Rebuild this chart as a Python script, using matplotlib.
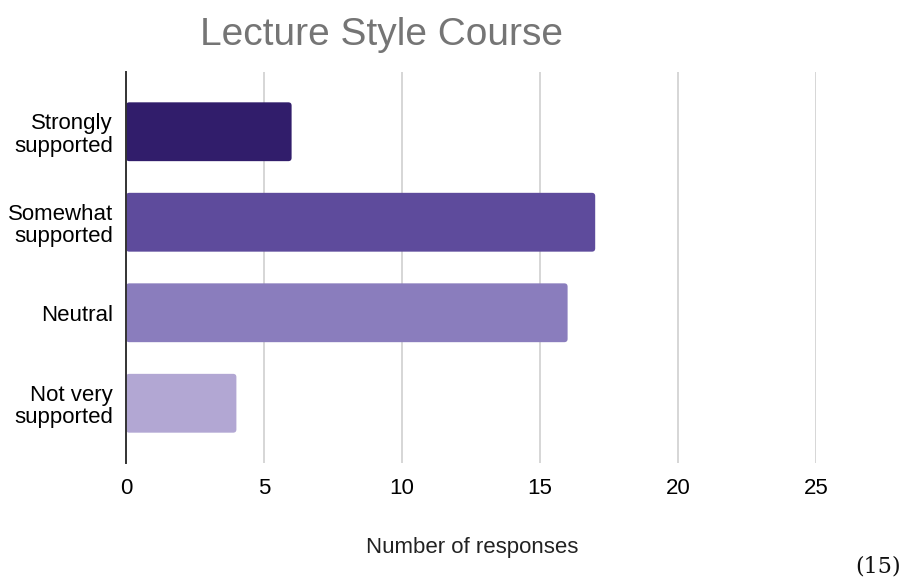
import matplotlib.pyplot as plt
from matplotlib.patches import FancyBboxPatch

# survey results
categories = ["Strongly\nsupported", "Somewhat\nsupported", "Neutral", "Not very\nsupported"]
responses = [6, 17, 16, 4]
bar_colors = ["#311d6b", "#5e4b9c", "#8a7dbd", "#b2a7d3"]
x_ticks = [0, 5, 10, 15, 20, 25]

plt.rcParams['font.family'] = ['Liberation Sans', 'DejaVu Sans']

fig = plt.figure(figsize=(9.08, 5.81), dpi=100)
ax = fig.add_axes([126/908, 1 - 463/581, 690/908, 391/581])

pos = list(range(len(categories)))
bars = ax.barh(pos, responses, height=0.65, color=bar_colors)

# swap plain rectangles for ones with slightly rounded corners
for b in bars:
    b.set_visible(False)
    rb = FancyBboxPatch((b.get_x(), b.get_y()), b.get_width(), b.get_height(),
                        boxstyle="round,pad=0,rounding_size=0.12",
                        mutation_aspect=0.3, facecolor=b.get_facecolor(),
                        edgecolor='none', zorder=2)
    ax.add_patch(rb)

ax.set_xlim(0, 25)
ax.set_ylim(3.66, -0.66)
ax.set_xticks(x_ticks)
ax.set_yticks(pos)
ax.set_yticklabels(categories, fontsize=16, linespacing=1.1)
ax.tick_params(axis='x', length=0, labelsize=16, pad=11)
ax.tick_params(axis='y', length=0, pad=9.5)
for lab in ax.get_yticklabels():
    lab.set_horizontalalignment('right')
    lab.set_multialignment('right')

ax.grid(axis='x', color='#cccccc', linewidth=1.1, zorder=0)
ax.set_axisbelow(True)
for s in ['top', 'right', 'bottom']:
    ax.spines[s].set_visible(False)
ax.spines['left'].set_color('#333333')
ax.spines['left'].set_linewidth(1.4)
ax.spines['left'].set_zorder(3)

fig.text(381/908, 1 - 45/581, "Lecture Style Course", fontsize=28,
         color='#757575', ha='center', va='baseline')
fig.text(472/908, 1 - 553/581, "Number of responses", fontsize=16,
         color='#222222', ha='center', va='baseline')
fig.text(878/908, 1 - 573/581, "(15)", fontsize=16, family='DejaVu Serif',
         color='#111111', ha='center', va='baseline')

fig.savefig('out.png', dpi=100)
